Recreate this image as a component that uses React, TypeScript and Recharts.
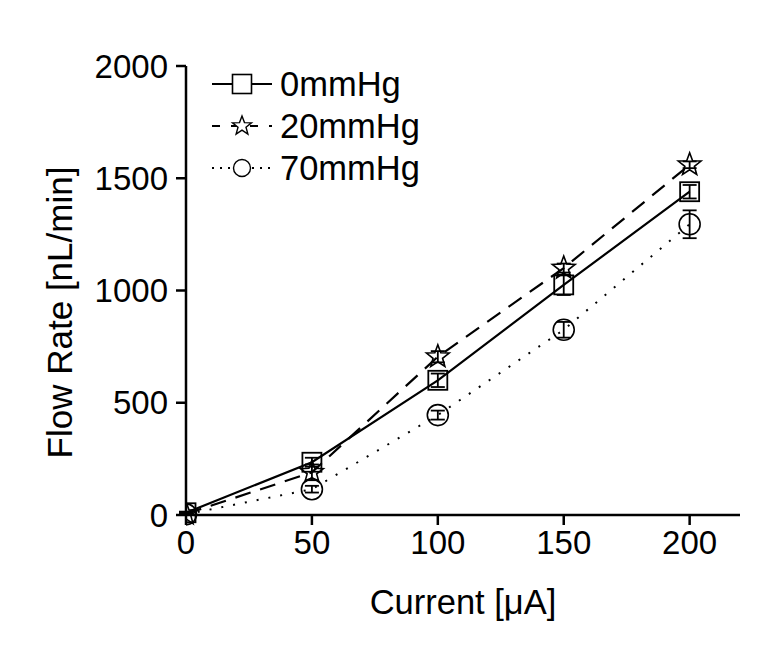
import React from "react";
import { ComposedChart, Line, XAxis, YAxis, ErrorBar } from "recharts";

const currents = [0, 50, 100, 150, 200];
const flow0 = [10, 235, 600, 1025, 1440];
const err0 = [5, 20, 30, 45, 30];
const flow20 = [5, 190, 705, 1100, 1560];
const err20 = [5, 35, 25, 20, 15];
const flow70 = [3, 115, 445, 825, 1295];
const err70 = [3, 15, 20, 35, 62];

const xTicks = [0, 50, 100, 150, 200];
const yTicks = [0, 500, 1000, 1500, 2000];

const rows = currents.map((c, i) => ({
  current: c,
  p0: flow0[i],
  e0: err0[i],
  p20: flow20[i],
  e20: err20[i],
  p70: flow70[i],
  e70: err70[i],
}));

const FONT = "'Liberation Sans', Arial, sans-serif";
const FS = 33;
const LABEL_FS = 35;

function starPath(cx: number, cy: number, R: number, r: number) {
  let d = "";
  for (let k = 0; k < 10; k++) {
    const rad = k % 2 === 0 ? R : r;
    const a = -Math.PI / 2 + (k * Math.PI) / 5;
    d += (k === 0 ? "M" : "L") + (cx + rad * Math.cos(a)).toFixed(2) + "," + (cy + rad * Math.sin(a)).toFixed(2);
  }
  return d + "Z";
}

const SquareDot = (p: any) =>
  p.cx == null ? null : (
    <rect key={p.index} x={p.cx - 9.5} y={p.cy - 9.5} width={19} height={19} fill="white" fillOpacity={0} stroke="black" strokeWidth={1.8} />
  );
const StarDot = (p: any) =>
  p.cx == null ? null : (
    <path key={p.index} d={starPath(p.cx, p.cy, 12, 5)} fill="white" fillOpacity={0} stroke="black" strokeWidth={1.6} />
  );
const CircleDot = (p: any) =>
  p.cx == null ? null : (
    <circle key={p.index} cx={p.cx} cy={p.cy} r={10.5} fill="white" fillOpacity={0} stroke="black" strokeWidth={1.6} />
  );

const legendItems = [
  { label: "0mmHg", dash: "", icon: "square" },
  { label: "20mmHg", dash: "8 11", icon: "star" },
  { label: "70mmHg", dash: "2 6", icon: "circle" },
];

const LegendBox = () => (
  <div style={{ position: "absolute", left: 212, top: 63 }}>
    {legendItems.map((it) => (
      <div key={it.label} style={{ display: "flex", alignItems: "center", height: 42 }}>
        <svg width={60} height={30}>
          <line x1={0} y1={15} x2={60} y2={15} stroke="black" strokeWidth={2} strokeDasharray={it.dash} />
          {it.icon === "square" && <rect x={20.5} y={5.5} width={19} height={19} fill="white" stroke="black" strokeWidth={1.6} />}
          {it.icon === "star" && <path d={starPath(30, 15, 10, 4.2)} fill="white" stroke="black" strokeWidth={1.4} />}
          {it.icon === "circle" && <circle cx={30} cy={15} r={8.5} fill="white" stroke="black" strokeWidth={1.4} />}
        </svg>
        <span style={{ fontFamily: FONT, fontSize: 34.5, marginLeft: 8, lineHeight: "34px" }}>{it.label}</span>
      </div>
    ))}
  </div>
);

const YLabel = (props: any) => {
  const vb = props.viewBox || {};
  const cx = 72;
  const cy = (vb.y ?? 66) + (vb.height ?? 449) / 2 + 22;
  return (
    <text x={cx} y={cy} transform={`rotate(-90, ${cx}, ${cy})`} textAnchor="middle" fill="black" fontSize={LABEL_FS} fontFamily={FONT}>
      Flow Rate [nL/min]
    </text>
  );
};

export default function App() {
  return (
    <div style={{ position: "absolute", left: 0, top: 0, width: 783, height: 665, background: "white" }}>
      <ComposedChart width={783} height={665} data={rows} margin={{ top: 66, right: 43, bottom: 40, left: 0 }}>
        <XAxis
          dataKey="current"
          type="number"
          domain={[0, 220]}
          ticks={xTicks}
          allowDataOverflow
          stroke="black"
          strokeWidth={2.5}
          tickSize={10}
          tickMargin={6}
          tick={{ fill: "black", fontSize: FS, fontFamily: FONT }}
          height={110}
          label={{ value: "Current [μA]", position: "insideBottom", offset: 11, fill: "black", fontSize: 34.5, fontFamily: FONT }}
        />
        <YAxis
          type="number"
          domain={[0, 2000]}
          ticks={yTicks}
          stroke="black"
          strokeWidth={2.5}
          tickSize={10}
          tickMargin={8}
          width={186}
          tick={{ fill: "black", fontSize: FS, fontFamily: FONT }}
          label={<YLabel />}
        />
        <Line dataKey="p70" stroke="black" strokeWidth={2} strokeDasharray="2 10" dot={CircleDot} isAnimationActive={false}>
          <ErrorBar dataKey="e70" width={7} stroke="black" strokeWidth={1.8} direction="y" />
        </Line>
        <Line dataKey="p20" stroke="black" strokeWidth={2.2} strokeDasharray="16 10" dot={StarDot} isAnimationActive={false}>
          <ErrorBar dataKey="e20" width={7} stroke="black" strokeWidth={1.8} direction="y" />
        </Line>
        <Line dataKey="p0" stroke="black" strokeWidth={2.2} dot={SquareDot} isAnimationActive={false}>
          <ErrorBar dataKey="e0" width={7} stroke="black" strokeWidth={1.8} direction="y" />
        </Line>
      </ComposedChart>
      <LegendBox />
    </div>
  );
}
